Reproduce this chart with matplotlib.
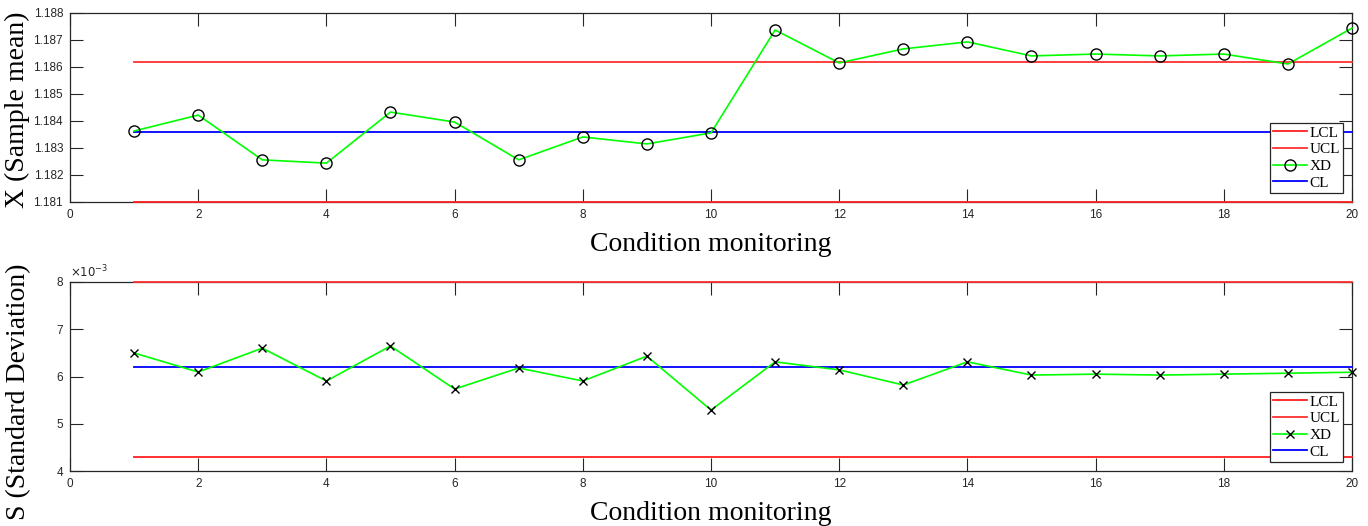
import matplotlib.pyplot as plt
from matplotlib.ticker import FuncFormatter

# samples
samples = list(range(1, 21))

# X-bar chart
xbar = [1.18363, 1.18422, 1.18256, 1.18244, 1.18433, 1.18396, 1.18256, 1.18341, 1.18315, 1.18356,
        1.18737, 1.18615, 1.18667, 1.18693, 1.18641, 1.18648, 1.18641, 1.18648, 1.18611, 1.18744]
x_lcl = 1.1810
x_ucl = 1.18619
x_cl = 1.18360

# S chart
sdev = [0.006497, 0.006095, 0.006600, 0.005905, 0.006645, 0.005735, 0.006180, 0.005905, 0.006430, 0.005290,
        0.006310, 0.006140, 0.005820, 0.006310, 0.006030, 0.006050, 0.006030, 0.006050, 0.006070, 0.006090]
s_lcl = 0.004296
s_ucl = 0.0080
s_cl = 0.00620

TICK_FONT = "Liberation Sans"
LABEL_FONT = "Liberation Serif"
AX_COLOR = "#262626"

fig = plt.figure(figsize=(13.68, 5.26), dpi=100)
ax1 = fig.add_axes([0.05117, 0.61597, 0.93713, 0.35932])
ax2 = fig.add_axes([0.05117, 0.10456, 0.93713, 0.35932])


def style_axes(ax):
    for s in ax.spines.values():
        s.set_color(AX_COLOR)
        s.set_linewidth(0.9)
    ax.tick_params(direction="in", length=9.5, width=0.8, color=AX_COLOR,
                   top=True, right=True, labelsize=8.5, labelcolor=AX_COLOR, pad=5)
    for lab in ax.get_xticklabels() + ax.get_yticklabels():
        lab.set_fontfamily(TICK_FONT)
    ax.set_xlim(0, 20)
    ax.set_xticks(range(0, 21, 2))
    ax.set_xlabel("Condition monitoring", fontfamily=LABEL_FONT, fontsize=20, labelpad=8)


def draw(ax, vals, lcl, ucl, cl, marker, msize):
    n = len(samples)
    ax.plot(samples, [lcl] * n, color="#ff2020", lw=1.3, label="LCL", zorder=3, clip_on=False)
    ax.plot(samples, [ucl] * n, color="#ff3030", lw=1.3, label="UCL", zorder=3, clip_on=False)
    ax.plot(samples, vals, color="#00ff00", lw=1.2, marker=marker, markersize=msize,
            markerfacecolor="none", markeredgecolor="black", markeredgewidth=1.0,
            label="XD", zorder=4, clip_on=False)
    ax.plot(samples, [cl] * n, color="#0000ff", lw=1.3, label="CL", zorder=3, clip_on=False)
    leg = ax.legend(loc="lower right", prop={"family": LABEL_FONT, "size": 11},
                    fancybox=False, edgecolor=AX_COLOR, framealpha=1,
                    handlelength=2.2, handletextpad=0.15, labelspacing=0.2,
                    borderpad=0.2, borderaxespad=0.6)
    leg.get_frame().set_linewidth(0.9)


draw(ax1, xbar, x_lcl, x_ucl, x_cl, "o", 8)
ax1.set_ylim(1.181, 1.188)
ax1.set_yticks([1.181 + 0.001 * i for i in range(8)])
ax1.yaxis.set_major_formatter(FuncFormatter(lambda v, p: f"{v:.3f}"))
style_axes(ax1)
ax1.set_ylabel("X (Sample mean)", fontfamily=LABEL_FONT, fontsize=20)
ax1.yaxis.set_label_coords(-0.0315, 0.487)

draw(ax2, sdev, s_lcl, s_ucl, s_cl, "x", 6)
ax2.set_ylim(0.004, 0.008)
ax2.set_yticks([0.004, 0.005, 0.006, 0.007, 0.008])
ax2.yaxis.set_major_formatter(FuncFormatter(lambda v, p: f"{v * 1e3:.0f}"))
style_axes(ax2)
ax2.set_ylabel("S (Standard Deviation)", fontfamily=LABEL_FONT, fontsize=20)
ax2.yaxis.set_label_coords(-0.030, 0.418)
ax2.text(0.0, 1.01, r"$\times10^{-3}$", transform=ax2.transAxes, fontsize=8.5,
         color=AX_COLOR, ha="left", va="bottom", fontfamily=TICK_FONT)

fig.savefig("out.png", dpi=100)
